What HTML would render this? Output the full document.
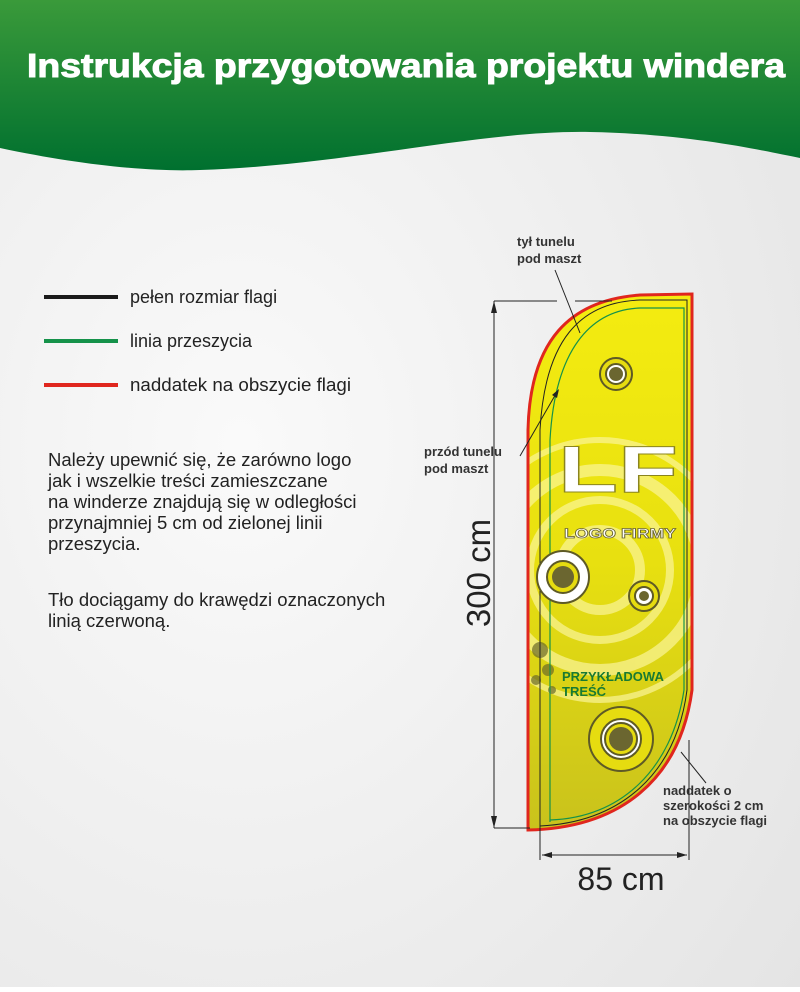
<!DOCTYPE html>
<html><head><meta charset="utf-8"><style>
body{margin:0;width:800px;height:987px;overflow:hidden;font-family:"Liberation Sans",sans-serif}
</style></head><body>
<svg width="800" height="987" viewBox="0 0 800 987" xmlns="http://www.w3.org/2000/svg" font-family="Liberation Sans, sans-serif">
<defs>
<radialGradient id="bg" cx="0.3" cy="0.45" r="0.9"><stop offset="0" stop-color="#fafafa"/><stop offset="1" stop-color="#e4e4e4"/></radialGradient>
<linearGradient id="hd" x1="0" y1="0" x2="0" y2="1"><stop offset="0" stop-color="#3a9a3a"/><stop offset="1" stop-color="#00702f"/></linearGradient>
<linearGradient id="fl" x1="0" y1="0" x2="0" y2="1"><stop offset="0" stop-color="#f4ec10"/><stop offset="0.5" stop-color="#e8e010"/><stop offset="1" stop-color="#c9c21c"/></linearGradient>
<clipPath id="fc"><path d="M528,830 L528,430 C530,340 570,300 640,295 L692,294 L692,690 C680,780 620,828 528,830 Z"/></clipPath>
</defs>
<rect width="800" height="987" fill="url(#bg)"/>
<path d="M0,0 L800,0 L800,158 C760,150 690,134 590,132 C480,130 350,165 200,170 C150,172 80,165 0,148 Z" fill="url(#hd)"/>
<text x="27" y="77" font-size="33" font-weight="bold" fill="#fff" stroke="#fff" stroke-width="1" textLength="758" lengthAdjust="spacingAndGlyphs">Instrukcja przygotowania projektu windera</text>

<line x1="44" y1="297" x2="118" y2="297" stroke="#1a1a1a" stroke-width="4"/>
<line x1="44" y1="341" x2="118" y2="341" stroke="#15924a" stroke-width="4"/>
<line x1="44" y1="385" x2="118" y2="385" stroke="#e0261e" stroke-width="4"/>
<g font-size="18" fill="#222">
<text x="130" y="303">pełen rozmiar flagi</text>
<text x="130" y="347">linia przeszycia</text>
<text x="130" y="391" textLength="221" lengthAdjust="spacingAndGlyphs">naddatek na obszycie flagi</text>
</g>
<g font-size="18.5" fill="#222">
<text x="48" y="466">Należy upewnić się, że zarówno logo</text>
<text x="48" y="487">jak i wszelkie treści zamieszczane</text>
<text x="48" y="508">na winderze znajdują się w odległości</text>
<text x="48" y="529">przynajmniej 5 cm od zielonej linii</text>
<text x="48" y="550">przeszycia.</text>
<text x="48" y="606">Tło dociągamy do krawędzi oznaczonych</text>
<text x="48" y="627">linią czerwoną.</text>
</g>

<!-- flag -->
<path d="M528,830 L528,430 C530,340 570,300 640,295 L692,294 L692,690 C680,780 620,828 528,830 Z" fill="url(#fl)"/>
<g clip-path="url(#fc)" fill="none" stroke="#fbf59a" opacity="0.7">
<circle cx="600" cy="570" r="40" stroke-width="10"/>
<circle cx="600" cy="570" r="70" stroke-width="8"/>
<circle cx="600" cy="570" r="100" stroke-width="12"/>
<circle cx="600" cy="570" r="130" stroke-width="6"/>
</g>
<g fill="#6b6a2a" opacity="0.7">
<circle cx="540" cy="650" r="8"/><circle cx="548" cy="670" r="6"/><circle cx="536" cy="680" r="5"/><circle cx="552" cy="690" r="4"/>
</g>
<path d="M528,830 L528,430 C530,340 570,300 640,295 L692,294 L692,690 C680,780 620,828 528,830 Z" fill="none" stroke="#e0261e" stroke-width="3"/>
<path d="M540,828 L540,430 C545,340 580,302 640,300 L687,300 L687,690 C676,775 620,822 540,826" fill="none" stroke="#222" stroke-width="1"/>
<path d="M550,822 L550,440 C555,350 590,310 640,308 L684,308 L684,690 C672,770 620,818 550,820" fill="none" stroke="#15924a" stroke-width="1.2"/>
<!-- grommets -->
<g stroke="#5e5a26" stroke-width="2">
<circle cx="616" cy="374" r="16" fill="#e6dc10"/><circle cx="616" cy="374" r="10" fill="#fff"/><circle cx="616" cy="374" r="7" fill="#6b6630" stroke="none"/>
<circle cx="563" cy="577" r="26" fill="#fff"/><circle cx="563" cy="577" r="16" fill="#e6dc10"/><circle cx="563" cy="577" r="11" fill="#6b6630" stroke="none"/>
<circle cx="644" cy="596" r="15" fill="#e6dc10"/><circle cx="644" cy="596" r="9" fill="#fff"/><circle cx="644" cy="596" r="5" fill="#6b6630" stroke="none"/>
<circle cx="621" cy="739" r="32" fill="#e6dc10"/><circle cx="621" cy="739" r="20" fill="#fff"/><circle cx="621" cy="739" r="16" fill="#e6dc10"/><circle cx="621" cy="739" r="12" fill="#6b6630" stroke="none"/>
</g>
<text x="558" y="492" font-size="66" font-weight="bold" fill="#fff" stroke="#8a8420" stroke-width="1" textLength="120" lengthAdjust="spacingAndGlyphs">LF</text>
<text x="564" y="538" font-size="14" font-weight="bold" fill="#fff" stroke="#6b6630" stroke-width="0.8" textLength="112" lengthAdjust="spacingAndGlyphs">LOGO FIRMY</text>
<text x="562" y="681" font-size="13" font-weight="bold" fill="#187a32">PRZYKŁADOWA</text>
<text x="562" y="696" font-size="13" font-weight="bold" fill="#187a32">TREŚĆ</text>

<!-- dimensions -->
<g stroke="#222" stroke-width="1" fill="none">
<line x1="494" y1="301" x2="494" y2="828"/>
<line x1="494" y1="301" x2="557" y2="301"/><line x1="575" y1="301" x2="612" y2="301"/>
<line x1="494" y1="828" x2="530" y2="828"/>
<line x1="540" y1="828" x2="540" y2="860"/>
<line x1="689" y1="740" x2="689" y2="860"/>
<line x1="542" y1="855" x2="687" y2="855"/>
<line x1="555" y1="270" x2="580" y2="333"/>
<line x1="520" y1="456" x2="557" y2="392"/>
<line x1="681" y1="752" x2="706" y2="783"/>
</g>
<g fill="#222">
<path d="M494,301 l-3,12 l6,0 Z"/><path d="M494,828 l-3,-12 l6,0 Z"/>
<path d="M542,855 l10,-3 l0,6 Z"/><path d="M687,855 l-10,-3 l0,6 Z"/>
<path d="M559,389 l-2,9 l-5,-3 Z"/>
</g>
<text x="490" y="573" font-size="33" fill="#222" text-anchor="middle" transform="rotate(-90 490 573)">300 cm</text>
<text x="621" y="890" font-size="32" fill="#222" text-anchor="middle">85 cm</text>
<g font-size="13" font-weight="bold" fill="#333">
<text x="517" y="246">tył tunelu</text><text x="517" y="263">pod maszt</text>
<text x="424" y="456">przód tunelu</text><text x="424" y="473">pod maszt</text>
<text x="663" y="795">naddatek o</text><text x="663" y="810">szerokości 2 cm</text><text x="663" y="825">na obszycie flagi</text>
</g>
</svg>
</body></html>
